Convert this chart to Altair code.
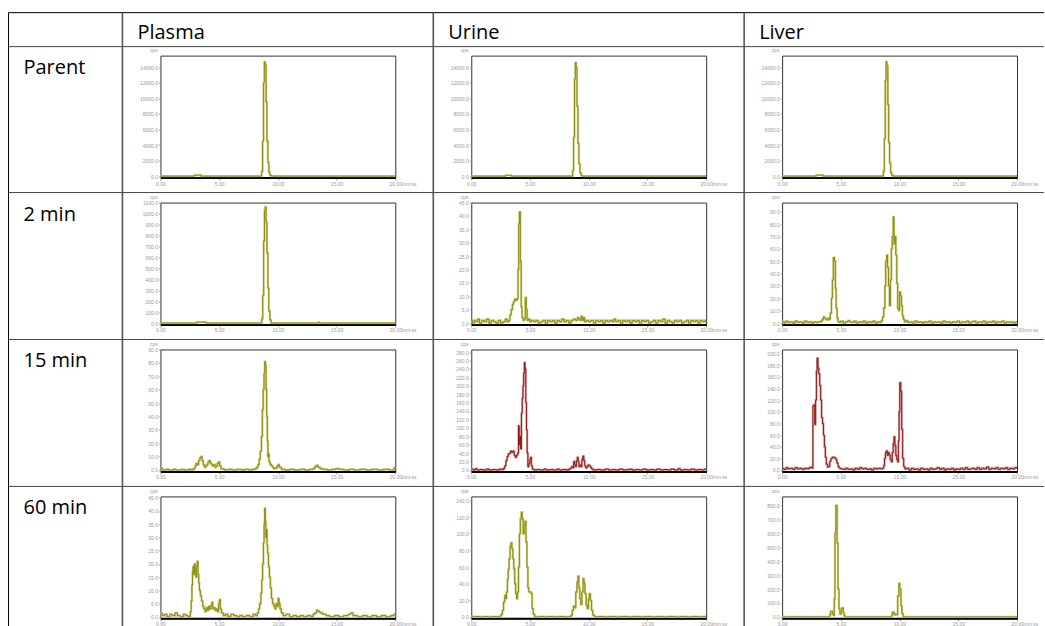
import altair as alt
import pandas as pd

COLUMNS = ["Plasma", "Urine", "Liver"]
ROWS = ["Parent", "2 min", "15 min", "60 min"]
X_TICKS = [0, 5, 10, 15, 20]

# ---- chromatogram series: (retention time in min, counts per second) ----
PLASMA_PARENT = [(0, 0), (2.9, 120), (3.45, 0), (8.55, 0), (8.62, 600), (8.7, 4500), (8.78, 12000),
                 (8.85, 14700), (8.92, 14300), (9.0, 9500), (9.07, 4500), (9.15, 1800), (9.23, 500),
                 (9.32, 100), (9.45, 0), (20, 0)]
URINE_PARENT = [(0, 0), (2.95, 110), (3.4, 0), (8.55, 0), (8.63, 700), (8.71, 5000), (8.79, 12500),
                (8.86, 14600), (8.93, 14000), (9.0, 9000), (9.08, 4200), (9.16, 1600), (9.25, 400),
                (9.35, 80), (9.45, 0), (20, 0)]
LIVER_PARENT = [(0, 0), (2.9, 130), (3.5, 0), (8.55, 0), (8.62, 650), (8.7, 4800), (8.78, 12300),
                (8.85, 14700), (8.92, 14200), (9.0, 9200), (9.07, 4300), (9.15, 1700), (9.24, 450),
                (9.33, 90), (9.45, 0), (20, 0)]

PLASMA_2 = [(0, 0), (3.1, 8), (3.9, 0), (8.55, 0), (8.63, 40), (8.71, 250), (8.79, 750), (8.86, 1030),
            (8.93, 1060), (9.0, 920), (9.07, 640), (9.15, 320), (9.23, 110), (9.32, 30), (9.42, 0),
            (13.45, 6), (13.55, 0), (20, 0)]
URINE_2 = [(0, 1), (0.1, 0), (0.25, 1), (0.4, 0.5), (0.55, 1.5), (0.7, 0), (0.9, 1), (1.1, 0.5), (1.3, 1.5),
           (1.5, 0), (1.7, 1), (1.9, 0.5), (2.1, 0), (2.3, 1), (2.5, 0), (2.7, 0.5), (2.9, 1.5), (3.05, 0.5),
           (3.2, 1), (3.3, 3), (3.4, 5), (3.5, 7), (3.6, 8), (3.7, 9), (3.8, 8.5), (3.9, 9), (3.98, 20),
           (4.04, 37), (4.1, 41.5), (4.18, 23), (4.25, 6), (4.32, 2), (4.42, 1), (4.52, 1.5), (4.6, 9.5),
           (4.68, 5), (4.76, 1), (4.86, 1.5), (4.98, 0.5), (5.1, 1), (5.3, 0.5), (5.5, 1), (5.7, 0), (5.9, 0.5),
           (6.1, 1), (6.3, 0), (6.5, 1), (6.7, 0.5), (6.9, 1), (7.1, 0), (7.3, 1), (7.5, 0.5), (7.7, 1.5),
           (7.9, 0.5), (8.1, 1), (8.3, 0), (8.5, 1), (8.7, 1.5), (8.9, 1), (9.05, 2), (9.15, 1.5), (9.25, 1),
           (9.35, 2.5), (9.45, 1), (9.55, 2), (9.65, 0.5), (9.8, 1), (10.0, 0.5), (10.2, 1), (10.4, 0),
           (10.6, 1), (10.8, 0.5), (11.0, 1), (11.2, 0), (11.4, 1), (11.6, 0.5), (11.8, 1), (12.0, 0.5),
           (12.15, 1.5), (12.3, 0.5), (12.5, 1), (12.7, 0), (12.9, 1), (13.1, 0.5), (13.3, 1), (13.5, 0),
           (13.7, 1), (13.9, 0.5), (14.1, 1), (14.3, 0), (14.5, 1), (14.7, 0.5), (14.9, 1), (15.1, 0),
           (15.3, 0.5), (15.5, 1), (15.7, 0), (15.9, 1), (16.1, 0.5), (16.3, 1.5), (16.5, 0), (16.7, 1),
           (16.9, 0.5), (17.1, 0), (17.3, 1), (17.5, 0.5), (17.7, 1), (17.9, 0), (18.1, 0.5), (18.3, 1),
           (18.5, 0), (18.7, 1), (18.9, 0.5), (19.1, 1), (19.3, 0), (19.5, 1), (19.7, 0.5), (19.9, 1), (20, 1)]
LIVER_2 = [(0, 1), (0.15, 0), (0.3, 1.5), (0.5, 0.5), (0.7, 1), (0.9, 0), (1.1, 1.5), (1.3, 0.5), (1.5, 1),
           (1.7, 0), (1.9, 1.5), (2.1, 0.5), (2.3, 1), (2.5, 0), (2.7, 1), (2.9, 0.5), (3.1, 1), (3.3, 1.5),
           (3.42, 3), (3.52, 5), (3.62, 4), (3.72, 3), (3.82, 2.5), (3.92, 4), (4.02, 3), (4.1, 8), (4.2, 20),
           (4.28, 35), (4.36, 53), (4.46, 50), (4.54, 28), (4.6, 12), (4.68, 4), (4.76, 1), (4.9, 0.5),
           (5.0, 1.5), (5.2, 0), (5.4, 1), (5.6, 2), (5.75, 1), (5.9, 0.5), (6.1, 1.5), (6.3, 0), (6.5, 1),
           (6.7, 0.5), (6.9, 1.5), (7.1, 0), (7.3, 1), (7.5, 0.5), (7.7, 1.5), (7.9, 0), (8.1, 1), (8.3, 0.5),
           (8.45, 2), (8.55, 5), (8.65, 12), (8.75, 30), (8.82, 50), (8.9, 55), (8.98, 45), (9.06, 30),
           (9.14, 14), (9.22, 35), (9.3, 60), (9.38, 70), (9.46, 86), (9.53, 64), (9.6, 70), (9.68, 55),
           (9.76, 32), (9.84, 12), (9.92, 10), (10.0, 25), (10.08, 22), (10.16, 14), (10.24, 6), (10.32, 3),
           (10.42, 1), (10.55, 2), (10.7, 0.5), (10.9, 1), (11.1, 0), (11.3, 1.5), (11.5, 0.5), (11.7, 1),
           (11.9, 0), (12.1, 1), (12.3, 0.5), (12.5, 1.5), (12.7, 0), (12.9, 1), (13.1, 0.5), (13.3, 1),
           (13.5, 0), (13.7, 1.5), (13.9, 0.5), (14.1, 1), (14.3, 0), (14.5, 1), (14.7, 0.5), (14.9, 1.5),
           (15.1, 0), (15.3, 1), (15.5, 0.5), (15.7, 1.5), (15.9, 0), (16.1, 1), (16.3, 1.5), (16.5, 0),
           (16.7, 1), (16.9, 0.5), (17.1, 1.5), (17.3, 0), (17.5, 1), (17.7, 0.5), (17.9, 1.5), (18.1, 0),
           (18.3, 1), (18.5, 0.5), (18.7, 1.5), (18.9, 0), (19.1, 1), (19.3, 0.5), (19.5, 1), (19.7, 0),
           (19.9, 1), (20, 1)]

PLASMA_15 = [(0, 1.5), (0.15, 0), (0.5, 0.5), (0.7, 0), (1.1, 0.5), (1.3, 0), (1.8, 0.5), (2.0, 0),
             (2.4, 0.5), (2.6, 0), (2.8, 1), (2.95, 3), (3.05, 5), (3.15, 4), (3.25, 7), (3.35, 9), (3.45, 10),
             (3.55, 7), (3.65, 4), (3.75, 2), (3.85, 3), (3.95, 4), (4.05, 6), (4.15, 7), (4.25, 5), (4.35, 4),
             (4.45, 3), (4.55, 4), (4.65, 2), (4.75, 3), (4.85, 5), (4.95, 6), (5.05, 3), (5.15, 1),
             (5.3, 0.5), (5.5, 0), (5.8, 0.5), (6.1, 0), (6.5, 0.5), (6.9, 0), (7.2, 0.5), (7.5, 0), (7.8, 0.5),
             (8.05, 1), (8.2, 2), (8.3, 4), (8.4, 8), (8.5, 14), (8.6, 25), (8.68, 45), (8.75, 60), (8.82, 72),
             (8.88, 81), (8.94, 78), (9.0, 60), (9.05, 40), (9.1, 22), (9.15, 10), (9.2, 12), (9.25, 6),
             (9.35, 4), (9.45, 3), (9.55, 2), (9.65, 1), (9.8, 1.5), (9.92, 3), (10.02, 4), (10.12, 2),
             (10.3, 0.5), (10.6, 0), (11.0, 0.5), (11.4, 0), (11.9, 0.5), (12.3, 0), (12.7, 0.5), (13.0, 1),
             (13.15, 2.5), (13.28, 3.5), (13.42, 2), (13.6, 1), (13.8, 0.5), (14.2, 0), (14.6, 0.5),
             (14.95, 1), (15.2, 0.5), (15.6, 0), (16.1, 0.5), (16.5, 0), (17.0, 0.5), (17.5, 0), (18.0, 0.5),
             (18.5, 0), (19.0, 0.5), (19.5, 0), (19.9, 1.5), (20, 1.5)]
URINE_15 = [(0, 2), (0.15, 0), (0.35, 3), (0.5, 0), (0.75, 1), (1.0, 0), (1.3, 2), (1.5, 0), (1.8, 1),
            (2.1, 0), (2.4, 2), (2.6, 1), (2.75, 4), (2.85, 10), (2.95, 22), (3.05, 32), (3.15, 38),
            (3.25, 40), (3.35, 45), (3.45, 42), (3.55, 45), (3.65, 35), (3.75, 30), (3.85, 35), (3.95, 40),
            (4.02, 105), (4.08, 60), (4.14, 80), (4.2, 50), (4.27, 135), (4.34, 170), (4.4, 200), (4.46, 230),
            (4.52, 255), (4.58, 240), (4.64, 160), (4.7, 95), (4.76, 40), (4.82, 8), (4.9, 15), (4.98, 25),
            (5.05, 30), (5.12, 10), (5.2, 2), (5.35, 0), (5.6, 1), (5.9, 0), (6.2, 2), (6.4, 0), (6.7, 1),
            (7.0, 0), (7.3, 2), (7.5, 0), (7.8, 1), (8.1, 0), (8.3, 2), (8.45, 5), (8.55, 8), (8.65, 5),
            (8.72, 20), (8.8, 12), (8.88, 8), (8.95, 22), (9.03, 30), (9.1, 20), (9.17, 8), (9.25, 12),
            (9.33, 8), (9.42, 25), (9.5, 33), (9.58, 22), (9.66, 10), (9.75, 5), (9.85, 8), (9.95, 12),
            (10.05, 10), (10.15, 6), (10.25, 2), (10.4, 0), (10.7, 1), (11.0, 0), (11.4, 2), (11.7, 0),
            (12.0, 1), (12.3, 0), (12.6, 2), (12.9, 0), (13.2, 1), (13.5, 2), (13.7, 0), (14.0, 1), (14.3, 0),
            (14.6, 2), (14.9, 0), (15.2, 1), (15.5, 0), (15.8, 2), (16.1, 0), (16.4, 1), (16.7, 0), (17.0, 2),
            (17.3, 0), (17.6, 3), (17.8, 0), (18.1, 1), (18.4, 0), (18.7, 2), (19.0, 0), (19.3, 1), (19.6, 0),
            (19.85, 2), (20, 2)]
LIVER_15 = [(0, 3), (0.15, 1), (0.35, 4), (0.5, 2), (0.7, 3), (0.9, 1), (1.1, 4), (1.3, 2), (1.5, 3),
            (1.7, 1), (1.9, 3), (2.1, 2), (2.3, 4), (2.45, 5), (2.55, 3), (2.62, 110), (2.7, 112), (2.78, 78),
            (2.85, 120), (2.92, 170), (2.98, 192), (3.05, 175), (3.12, 165), (3.2, 145), (3.28, 120),
            (3.36, 90), (3.44, 80), (3.52, 60), (3.6, 40), (3.68, 22), (3.76, 10), (3.86, 5), (3.96, 6),
            (4.06, 15), (4.16, 20), (4.3, 22), (4.44, 21), (4.56, 18), (4.66, 12), (4.76, 6), (4.86, 3),
            (5.0, 2), (5.2, 1), (5.4, 3), (5.6, 1), (5.8, 2), (6.0, 0), (6.2, 3), (6.4, 1), (6.6, 4), (6.8, 2),
            (7.0, 3), (7.2, 1), (7.4, 2), (7.6, 0), (7.8, 3), (8.0, 2), (8.2, 3), (8.4, 2), (8.55, 3),
            (8.65, 8), (8.72, 20), (8.8, 30), (8.88, 33), (8.96, 25), (9.04, 30), (9.12, 26), (9.2, 18),
            (9.3, 14), (9.38, 30), (9.46, 45), (9.52, 57), (9.6, 42), (9.68, 25), (9.76, 18), (9.84, 14),
            (9.9, 50), (9.96, 100), (10.02, 150), (10.1, 135), (10.18, 70), (10.26, 20), (10.35, 6),
            (10.45, 2), (10.6, 3), (10.8, 0), (11.0, 3), (11.2, 1), (11.4, 2), (11.6, 0), (11.8, 3), (12.0, 1),
            (12.2, 2), (12.4, 0), (12.6, 3), (12.8, 1), (13.0, 2), (13.2, 4), (13.4, 1), (13.6, 3), (13.8, 0),
            (14.0, 2), (14.2, 1), (14.4, 3), (14.6, 0), (14.8, 2), (15.0, 1), (15.2, 3), (15.4, 1), (15.6, 4),
            (15.8, 1), (16.0, 2), (16.2, 3), (16.4, 1), (16.6, 4), (16.8, 1), (17.0, 3), (17.2, 2), (17.4, 5),
            (17.6, 1), (17.8, 3), (18.0, 2), (18.2, 4), (18.4, 1), (18.6, 3), (18.8, 2), (19.0, 4), (19.2, 1),
            (19.4, 3), (19.6, 2), (19.8, 4), (20, 2)]

PLASMA_60 = [(0, 1.5), (0.15, 0.5), (0.35, 1), (0.55, 0), (0.8, 1), (1.0, 0.5), (1.25, 1.5), (1.45, 0.5),
             (1.7, 0), (1.95, 1), (2.15, 0.5), (2.35, 0), (2.55, 2), (2.62, 6), (2.68, 12), (2.73, 17),
             (2.78, 19), (2.84, 16), (2.9, 20), (2.96, 17), (3.02, 15), (3.08, 19), (3.14, 21), (3.2, 16),
             (3.26, 13), (3.32, 10), (3.4, 8), (3.5, 6), (3.6, 4), (3.7, 3), (3.8, 2), (3.9, 3.5), (4.0, 2.5),
             (4.1, 4), (4.2, 3), (4.3, 4.5), (4.38, 5.5), (4.46, 3), (4.55, 3.5), (4.65, 2.5), (4.75, 3),
             (4.85, 2), (4.95, 5), (5.02, 6.5), (5.1, 3), (5.2, 1.5), (5.35, 0.5), (5.55, 1), (5.75, 0),
             (6.0, 1), (6.25, 0.5), (6.5, 0), (6.75, 0.5), (7.0, 0), (7.3, 0.5), (7.6, 0), (7.9, 1), (8.1, 0.5),
             (8.25, 1.5), (8.35, 3), (8.45, 5), (8.55, 9), (8.63, 14), (8.7, 20), (8.77, 28), (8.83, 35),
             (8.88, 41), (8.93, 36), (8.98, 30), (9.03, 33), (9.08, 27), (9.13, 24), (9.2, 19), (9.28, 15),
             (9.36, 11), (9.45, 7), (9.55, 5), (9.65, 4), (9.75, 3), (9.85, 5), (9.95, 4), (10.03, 7),
             (10.1, 5), (10.18, 3), (10.3, 1.5), (10.45, 0.5), (10.7, 1), (11.0, 0), (11.3, 0.5), (11.6, 0),
             (11.9, 0.5), (12.2, 0), (12.5, 0.5), (12.8, 0), (13.0, 1), (13.15, 1.5), (13.3, 2.5), (13.45, 2),
             (13.6, 1.5), (13.8, 1), (14.1, 0.5), (14.4, 0), (14.8, 0.5), (15.2, 0), (15.6, 0.5), (16.0, 1),
             (16.2, 1.5), (16.4, 0.5), (16.8, 0), (17.2, 0.5), (17.6, 0), (18.0, 0.5), (18.4, 0), (18.8, 0.5),
             (19.2, 0), (19.6, 0.5), (19.9, 1), (20, 1)]
URINE_60 = [(0, 1), (0.1, 0), (0.4, 0.5), (0.7, 0), (1.1, 0.5), (1.4, 0), (1.9, 0.5), (2.2, 0), (2.45, 1),
            (2.55, 3), (2.65, 8), (2.75, 18), (2.85, 26), (2.93, 22), (3.0, 30), (3.08, 45), (3.15, 57),
            (3.22, 70), (3.3, 85), (3.38, 89), (3.46, 82), (3.54, 70), (3.62, 58), (3.7, 40), (3.78, 28),
            (3.86, 22), (3.94, 30), (4.02, 60), (4.1, 100), (4.18, 118), (4.26, 126), (4.34, 118), (4.42, 100),
            (4.5, 110), (4.58, 115), (4.66, 90), (4.74, 60), (4.82, 35), (4.9, 30), (5.0, 30), (5.1, 28),
            (5.18, 10), (5.28, 3), (5.4, 0), (5.8, 0.5), (6.2, 0), (6.6, 0.5), (7.0, 0), (7.5, 0.5), (7.9, 0),
            (8.3, 0.5), (8.5, 2), (8.6, 8), (8.7, 13), (8.8, 11), (8.9, 30), (9.0, 42), (9.08, 49), (9.16, 35),
            (9.24, 22), (9.32, 15), (9.42, 30), (9.52, 46), (9.6, 40), (9.68, 28), (9.78, 14), (9.88, 10),
            (9.98, 22), (10.06, 28), (10.14, 20), (10.24, 8), (10.35, 2), (10.5, 0), (10.8, 0.5), (11.3, 0),
            (11.8, 0.5), (12.3, 0), (12.8, 0.5), (13.3, 0), (13.8, 0.5), (14.3, 0), (14.8, 0.5), (15.3, 0),
            (15.8, 0.5), (16.3, 0), (16.8, 0.5), (17.3, 0), (17.8, 0.5), (18.3, 0), (18.8, 0.5), (19.3, 0),
            (19.7, 0.5), (20, 0.5)]
LIVER_60 = [(0, 0), (3.95, 0), (4.05, 15), (4.12, 40), (4.22, 40), (4.3, 20), (4.38, 10), (4.44, 130),
            (4.5, 600), (4.58, 800), (4.68, 530), (4.76, 200), (4.84, 60), (4.92, 20), (5.02, 40), (5.1, 65),
            (5.2, 30), (5.28, 8), (5.36, 0), (9.32, 10), (9.4, 35), (9.5, 25), (9.6, 15), (9.75, 18),
            (9.84, 150), (9.94, 240), (10.02, 200), (10.12, 80), (10.2, 25), (10.3, 0), (20, 0)]

# ---- y axes: top of scale and tick values per panel ----
T_PARENT = [0, 2000, 4000, 6000, 8000, 10000, 12000, 14000]
T_P2 = [0, 100, 200, 300, 400, 500, 600, 700, 800, 900, 1000, 1100]
T_P15 = [0, 10, 20, 30, 40, 50, 60, 70, 80, 90]
T_45 = [0, 5, 10, 15, 20, 25, 30, 35, 40, 45]
T_L2 = [0, 10, 20, 30, 40, 50, 60, 70, 80, 90]
T_U15 = [0, 20, 40, 60, 80, 100, 120, 140, 160, 180, 200, 220, 240, 260, 280]
T_L15 = [0, 20, 40, 60, 80, 100, 120, 140, 160, 180, 200]
T_U60 = [0, 20, 40, 60, 80, 100, 120, 140]
T_L60 = [0, 100, 200, 300, 400, 500, 600, 700, 800]

OLIVE = ("#cfcf86", "#858500")
DARKRED = ("#d9a0a0", "#880a0a")

GRID = [
    [(PLASMA_PARENT, 15500, T_PARENT, OLIVE), (URINE_PARENT, 15500, T_PARENT, OLIVE), (LIVER_PARENT, 15500, T_PARENT, OLIVE)],
    [(PLASMA_2, 1100, T_P2, OLIVE), (URINE_2, 45, T_45, OLIVE), (LIVER_2, 97.5, T_L2, OLIVE)],
    [(PLASMA_15, 90, T_P15, OLIVE), (URINE_15, 286, T_U15, DARKRED), (LIVER_15, 207, T_L15, DARKRED)],
    [(PLASMA_60, 45.5, T_45, OLIVE), (URINE_60, 145, T_U60, OLIVE), (LIVER_60, 864, T_L60, OLIVE)],
]

PLOT_W, PLOT_H = 235, 122
SMALL = "Liberation Sans"
GREY = "#9a9a9a"
ONE = pd.DataFrame({"k": [0]})

CELL_TOP = [-9, -10, -10, -10]
CELL_BOTTOM = [137, 137, 137, 132]
TABLE_TOP = -43
CELL_LEFT = -38
LABEL_LEFT = -152


def hrule(x1, x2, y, color, w):
    return alt.Chart(ONE).mark_rule(color=color, strokeWidth=w).encode(
        x=alt.value(x1), x2=alt.value(x2), y=alt.value(y))


def vrule(x, y1, y2, color, w):
    return alt.Chart(ONE).mark_rule(color=color, strokeWidth=w).encode(
        x=alt.value(x), y=alt.value(y1), y2=alt.value(y2))


def label(text, x, y):
    return alt.Chart(ONE).mark_text(text=text, align="left", baseline="alphabetic", fontSize=20,
                                    font="Open Sans", color="#000").encode(x=alt.value(x), y=alt.value(y))


def panel(r, c):
    series, ymax, yticks, (halo, core) = GRID[r][c]
    df = pd.DataFrame(series, columns=["t", "v"])
    x_enc = alt.X("t:Q", scale=alt.Scale(domain=[0, 20], nice=False, zero=False),
                  axis=alt.Axis(values=X_TICKS, labelExpr="format(datum.value, '.2f')", title="mm:ss",
                                titleX=PLOT_W + 6, titleY=3.5, titleAlign="left", titleBaseline="top",
                                titleFontSize=5, titleFontWeight="normal", titleColor=GREY, titleFont=SMALL,
                                labelFontSize=5, labelColor=GREY, labelFont=SMALL, labelPadding=1,
                                labelFlush=False, labelOverlap=False, tickSize=2.5, tickColor=GREY,
                                domainColor="#000", domainWidth=2, grid=False))
    y_enc = alt.Y("v:Q", scale=alt.Scale(domain=[-ymax * 0.012, ymax], nice=False, zero=False),
                  axis=alt.Axis(values=yticks, format=".1f", title="cps", titleAngle=0, titleX=-11, titleY=-3,
                                titleAlign="left", titleBaseline="bottom", titleFontSize=5,
                                titleFontWeight="normal", titleColor=GREY, titleFont=SMALL,
                                labelFontSize=5, labelColor=GREY, labelFont=SMALL, labelPadding=1,
                                labelOverlap=False, tickSize=2, tickColor=GREY, domain=False, grid=False))
    under = alt.Chart(df).mark_line(interpolate="step-after", color=halo, strokeWidth=2.2, clip=True).encode(
        x=x_enc, y=y_enc)
    over = alt.Chart(df).mark_line(interpolate="step-after", color=core, strokeWidth=0.9, clip=True).encode(
        x=x_enc, y=y_enc)
    layers = [under, over]
    left = LABEL_LEFT if c == 0 else CELL_LEFT
    right = 262 if c == 2 else CELL_LEFT + 311
    top = TABLE_TOP if r == 0 else CELL_TOP[r]
    # horizontal row separator and table top
    layers.append(hrule(left, right, CELL_TOP[r], "#444", 1))
    if r == 0:
        layers.append(hrule(left, right, TABLE_TOP, "#000", 1))
        layers.append(label(COLUMNS[c], -23, -17))
    # vertical column separators
    layers.append(vrule(CELL_LEFT, top, CELL_BOTTOM[r], "#555", 1.6))
    if c == 0:
        layers.append(vrule(LABEL_LEFT, top, CELL_BOTTOM[r], "#000", 1))
        layers.append(label(ROWS[r], -137, 18))
    return alt.layer(*layers).properties(width=PLOT_W, height=PLOT_H)


charts = [panel(r, c) for r in range(4) for c in range(3)]

chart = alt.concat(*charts, columns=3, spacing={"row": 25, "column": 76}, bounds="flush", align="all").properties(
    padding={"left": 7.5, "top": 10.5, "right": 0, "bottom": 0}, background="white"
).configure_view(stroke="#333", strokeWidth=1)

chart.save("out.html", embed_options={"renderer": "svg", "actions": False})
